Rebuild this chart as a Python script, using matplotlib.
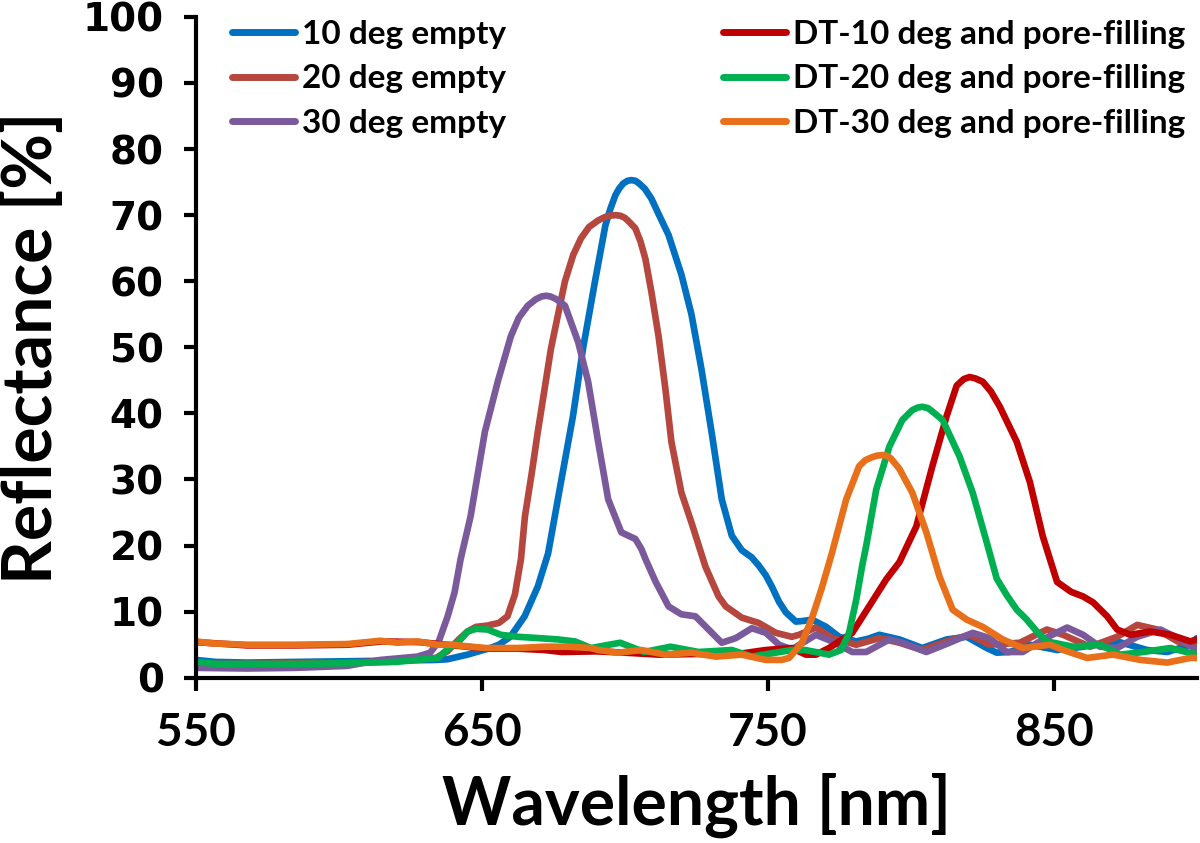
import matplotlib
matplotlib.use('Agg')
import matplotlib.pyplot as plt

plt.rcParams['font.family'] = ['Lato', 'DejaVu Sans']
plt.rcParams['font.weight'] = 'bold'

# Reflectance spectra (wavelength nm, reflectance %)
wl_10 = [550, 557, 568, 585, 603, 620, 634, 638, 645, 653, 656, 660, 665, 669.6, 673.2,
         677.7, 681.9, 685.4, 689.6, 693.2, 695, 696.7, 698, 699.5, 701, 702.3, 703.7, 705,
         707, 709.3, 712, 715.3, 719.8, 723.3, 726.8, 730.4, 733.9, 737.4, 740.9, 744.4,
         746.8, 749.3, 751.4, 753.9, 756.3, 759.8, 762.5, 765.4, 770.4, 774.9, 780.9, 785,
         789, 796, 804, 812.5, 819.5, 826.5, 830, 834.6, 841.6, 851.1, 860.2, 872.1, 882.6,
         889.6, 897.7, 900]
r_10 = [2.7, 2.4, 2.3, 2.4, 2.5, 2.6, 2.7, 2.8, 3.5, 4.5, 5.0, 6.2, 9.3, 13.8, 18.8,
        29.6, 39.6, 49.8, 60, 68.4, 71, 73, 74, 74.8, 75.2, 75.3, 75.2, 74.8,
        74, 72.5, 70, 67, 61, 55, 46.7, 37, 27, 21.5, 19.3, 18.2,
        17, 15.5, 13.8, 11.5, 9.9, 8.5, 8.6, 8.8, 7.7, 6.2, 5.5, 5.9,
        6.5, 5.8, 4.5, 5.8, 6.2, 4.5, 3.8, 3.9, 5.0, 4.2, 4.7, 5.5, 4.2,
        3.9, 5.0, 6.0]

wl_20 = [550, 568, 585, 603, 620, 634, 638, 642, 645, 648, 652, 656, 659, 661.6, 663.7,
         665.1, 667.5, 669.6, 674.2, 679.1, 682, 684.7, 687.5, 690.7, 693, 694.5, 696.7,
         698.5, 700, 701.5, 703.7, 705.5, 707.2, 709.3, 711.8, 714.2, 716.3, 719.8, 723.3,
         728.2, 732.8, 735.3, 740.9, 746.8, 752.8, 758.4, 760.9, 766.8, 772.5, 780.9, 789,
         796, 804, 812.5, 820.5, 827.5, 838.1, 847.5, 853.2, 862.6, 872.1, 879.1, 886.1,
         893.2, 900]
r_20 = [2.1, 2.1, 2.2, 2.3, 2.5, 3.0, 4.0, 5.8, 7.0, 7.7, 7.9, 8.3, 9.3, 12.6, 17.9,
        24.4, 31, 37.2, 49.8, 60, 64, 66.5, 68.2, 69.2, 69.7, 69.9, 70,
        69.9, 69.6, 69, 68, 66, 63.4, 58.4, 51.7, 43.7, 35.7, 28, 23.5,
        16.8, 12.3, 10.8, 9.1, 8.3, 6.8, 6.2, 6.5, 7.6, 6.0, 5.0, 6.0,
        5.3, 4.2, 5.5, 6.5, 5.0, 5.3, 7.3, 6.5, 4.7, 6.2, 8.0, 7.3,
        5.5, 4.7]

wl_30 = [550, 568, 585, 603, 614.6, 627.5, 632, 635, 638.1, 640.5, 642.6, 646.1, 651.1,
         655.6, 660.2, 663, 666.1, 669, 671, 672.5, 674, 676, 679.1, 683.7, 687.2, 690.7,
         694.2, 698.8, 703.7, 705.8, 707.2, 710.7, 715.3, 719.8, 724.7, 729.3, 733.9, 738.8,
         744.4, 749.3, 753.9, 758.4, 763, 766.8, 772.5, 779.5, 784.4, 792.5, 797, 805.4,
         813.5, 821.6, 827.5, 833.5, 839.1, 846.1, 854.6, 860.2, 866.1, 872.1, 879.1, 887.2,
         894.2, 900]
r_30 = [1.5, 1.4, 1.5, 1.8, 2.7, 3.2, 3.8, 5.5, 9.3, 12.9, 17.9, 24.4, 37.2,
        44.8, 51.7, 54.5, 56.3, 57.3, 57.7, 57.8, 57.7, 57.3, 56.3, 50.8, 44.8, 35.7,
        27, 22, 21, 19.5, 18, 14.6, 10.8, 9.6, 9.3, 7.3, 5.3, 6.0,
        7.5, 6.8, 5.0, 4.3, 5.5, 6.5, 5.5, 3.9, 3.9, 5.8, 5.3, 3.9,
        5.3, 6.8, 6.0, 3.9, 3.9, 5.8, 7.6, 6.5, 4.7, 4.5, 6.2, 7.3,
        5.8, 4.2]

wl_dt10 = [550, 568, 585, 603, 615, 628, 640, 652, 663, 672, 678, 690, 700, 712, 725,
           738, 749.3, 758.4, 763.3, 766.8, 771.4, 779.5, 785.4, 791.4, 796, 801.9, 807.5,
           812.5, 816, 818.5, 820.5, 822.5, 825.1, 828, 831.1, 837, 841.6, 846.1, 851.1, 856,
           860.2, 863.7, 868.6, 872.1, 876.7, 883.7, 890.7, 897.7, 900]
r_dt10 = [5.4, 4.9, 4.9, 5.0, 5.5, 5.4, 4.9, 4.4, 4.4, 4.2, 3.9, 4.0, 3.8, 3.5, 3.6,
          3.5, 4.2, 4.5, 3.5, 3.5, 4.5, 6.8, 10.8, 14.9, 17.5, 22.9, 32,
          39.6, 44.2, 45.2, 45.5, 45.3, 44.8, 43.3, 41, 35.7, 29.6, 21.4, 14.5, 13,
          12.3, 11.4, 9.3, 7.3, 6.5, 7.0, 6.5, 5.5, 5.8]

wl_dt20 = [550, 557, 568, 585, 603, 620, 634.6, 639.1, 641.6, 645.1, 648, 652.1, 656.7,
           662.6, 670, 676.7, 682.6, 688.2, 692, 698.4, 706.8, 716, 725.8, 737.4, 744.4,
           752.8, 758.4, 763, 767.9, 771.4, 775.6, 778.4, 780.9, 783, 784.4, 787.9, 792.5,
           797, 800.5, 802.5, 804, 806, 807.5, 811.1, 817, 821.6, 826.5, 830, 833.5, 837,
           840.5, 844, 847.5, 856.7, 866.1, 873.2, 881.2, 890.7, 900]
r_dt20 = [2.4, 2.1, 2.1, 2.1, 2.2, 2.4, 3.0, 4.7, 5.3, 7.0, 7.4, 7.3, 6.5,
          6.2, 6.0, 5.8, 5.5, 4.5, 4.8, 5.3, 3.9, 4.7, 3.9, 4.2, 3.2,
          3.8, 4.2, 4.2, 3.8, 3.5, 4.2, 6.8, 11.8, 17, 20, 28.5, 35,
          39, 40.5, 40.9, 41, 40.8, 40.3, 39, 33.5, 28, 20.5, 15, 12.5, 10.3,
          8.8, 7, 5.5, 4.7, 5.0, 3.5, 3.9, 4.5, 3.5]

wl_dt30 = [550, 556, 568, 585, 603, 614.6, 620.5, 627.5, 634.6, 639.1, 651.1, 662.6, 672.1,
           680.2, 688.2, 690.7, 697.7, 705.8, 714.2, 723.3, 731.8, 740.9, 749.3, 754.9, 757.4,
           759.8, 761.9, 765.4, 768.8, 772.3, 777.4, 781.9, 784, 786, 788, 790, 791.5, 793,
           796, 800.5, 805.4, 810, 814.6, 819.5, 825.1, 832.1, 839.1, 848.6, 853.2, 861.6,
           870.7, 880.2, 889.6, 897.7, 900]
r_dt30 = [5.5, 5.2, 5.0, 5.0, 5.1, 5.6, 5.3, 5.5, 5.0, 5.0, 4.5, 4.5, 4.7,
          4.7, 4.5, 4.2, 3.8, 4.2, 3.5, 3.8, 3.2, 3.5, 2.7, 2.7, 3.0,
          4.2, 5.3, 9.0, 13.5, 18.7, 27, 32, 32.9, 33.3, 33.6, 33.7, 33.6, 33.2,
          31.6, 28, 22, 15.3, 10.3, 8.8, 7.7, 5.8, 4.5, 5.0, 4.2, 3.0,
          3.5, 2.7, 2.3, 3.0, 3.0]

labels = ['10 deg empty', '20 deg empty', '30 deg empty',
          'DT-10 deg and pore-filling', 'DT-20 deg and pore-filling', 'DT-30 deg and pore-filling']
colors = ['#0070C0', '#B5473F', '#7B5A9C', '#C00000', '#00B050', '#E8701A']

series = [(wl_10, r_10), (wl_20, r_20), (wl_30, r_30),
          (wl_dt10, r_dt10), (wl_dt20, r_dt20), (wl_dt30, r_dt30)]

fig = plt.figure(figsize=(12, 8.43), dpi=100)
ax = fig.add_axes([0.163, 0.196, 0.8345, 0.784])

lines = []
for (x, y), c, lab in zip(series, colors, labels):
    ln, = ax.plot(x, y, color=c, lw=4.8, label=lab,
                  solid_joinstyle='round', solid_capstyle='round')
    lines.append(ln)

ax.set_xlim(550, 900)
ax.set_ylim(0, 100)

for s in ['top', 'right']:
    ax.spines[s].set_visible(False)
for s in ['left', 'bottom']:
    ax.spines[s].set_linewidth(3)

ax.set_xticks([550, 650, 750, 850])
ax.set_yticks(range(0, 101, 10))
ax.tick_params(axis='both', direction='out', length=9, width=3)
ax.tick_params(axis='x', pad=16)
ax.tick_params(axis='y', pad=14)
for t in ax.get_xticklabels():
    t.set_fontfamily(['Lato', 'DejaVu Sans'])
    t.set_fontsize(33)
    t.set_fontweight('bold')
for t in ax.get_yticklabels():
    t.set_fontfamily(['DejaVu Sans'])
    t.set_fontsize(28)
    t.set_fontweight('bold')

ax.set_xlabel('Wavelength [nm]', fontsize=47.5, fontweight='bold', labelpad=13)
ax.set_ylabel('Reflectance [%]', fontsize=49, fontweight='bold', labelpad=13)

leg_font = {'family': ['Lato', 'DejaVu Sans'], 'weight': 'bold', 'size': 24}
leg_kw = dict(loc='upper left', frameon=False, prop=leg_font, borderpad=0,
              borderaxespad=0, handlelength=1.9, handletextpad=0.2, labelspacing=0.46)
leg1 = ax.legend(lines[:3], labels[:3], bbox_to_anchor=(0.036, 0.995), **leg_kw)
ax.add_artist(leg1)
leg2 = ax.legend(lines[3:], labels[3:], bbox_to_anchor=(0.5265, 0.995), **leg_kw)
for lg in (leg1, leg2):
    for h in lg.get_lines():
        h.set_linewidth(5)

fig.savefig('out.png', dpi=100)
